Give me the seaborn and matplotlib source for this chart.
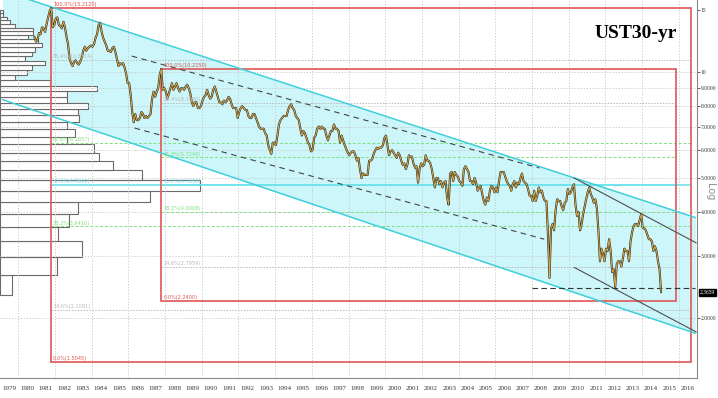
import numpy as np
import matplotlib
matplotlib.use('Agg')
import matplotlib.pyplot as plt
import matplotlib.transforms as mtransforms
from matplotlib.patches import Rectangle
import seaborn as sns
import pandas as pd

sns.set_theme(style='white')
plt.rcParams['font.family'] = ['DejaVu Sans']

# monthly 30yr yield, Nov 1980 .. Jan 2015
first_year, first_month = 1980, 11
yields = [
    12.6, 12.2,                                                        # 1980
    12.3, 12.9, 12.8, 13.4, 13.3, 13.0, 13.7, 14.3, 14.9, 15.2, 13.4, 13.6,  # 1981
    14.2, 14.3, 13.6, 13.5, 13.3, 13.9, 13.4, 12.6, 12.0, 10.9, 10.6, 10.4,  # 1982
    10.7, 10.8, 10.6, 10.5, 10.7, 11.0, 11.5, 11.8, 11.5, 11.7, 11.8, 11.9,  # 1983
    11.8, 12.0, 12.5, 12.8, 13.6, 13.8, 13.0, 12.5, 12.2, 11.9, 11.5, 11.5,  # 1984
    11.4, 11.7, 11.8, 11.4, 10.9, 10.4, 10.6, 10.5, 10.6, 10.3, 9.9, 9.3,    # 1985
    9.3, 8.6, 7.7, 7.2, 7.6, 7.3, 7.3, 7.4, 7.7, 7.6, 7.4, 7.5,              # 1986
    7.4, 7.5, 7.6, 8.4, 8.8, 8.5, 8.8, 9.0, 9.8, 10.2, 8.9, 9.0,             # 1987
    8.8, 8.4, 8.7, 9.0, 9.3, 8.9, 9.1, 9.3, 9.0, 8.8, 9.0, 9.0,              # 1988
    8.9, 9.1, 9.2, 9.0, 8.7, 8.2, 8.0, 8.2, 8.2, 7.9, 7.9, 8.0,              # 1989
    8.3, 8.5, 8.6, 8.9, 8.6, 8.4, 8.5, 8.9, 9.1, 8.8, 8.5, 8.2,              # 1990
    8.2, 8.1, 8.3, 8.2, 8.3, 8.5, 8.4, 8.1, 7.9, 7.9, 7.9, 7.4,              # 1991
    7.7, 7.9, 8.0, 7.9, 7.8, 7.8, 7.5, 7.4, 7.4, 7.6, 7.6, 7.4,              # 1992
    7.2, 7.0, 6.9, 6.9, 6.9, 6.7, 6.6, 6.2, 6.0, 5.85, 6.3, 6.3,             # 1993
    6.2, 6.6, 7.1, 7.3, 7.4, 7.5, 7.5, 7.5, 7.8, 8.0, 8.1, 7.9,              # 1994
    7.8, 7.5, 7.4, 7.3, 6.9, 6.6, 6.8, 6.7, 6.5, 6.3, 6.2, 5.95,             # 1995
    6.0, 6.5, 6.6, 6.9, 7.0, 6.9, 7.0, 6.9, 6.9, 6.6, 6.4, 6.6,              # 1996
    6.8, 6.8, 7.1, 6.9, 6.9, 6.8, 6.3, 6.6, 6.4, 6.2, 6.05, 5.9,             # 1997
    5.8, 5.9, 5.95, 5.95, 5.8, 5.6, 5.7, 5.3, 5.0, 5.15, 5.1, 5.1,           # 1998
    5.1, 5.6, 5.6, 5.65, 5.85, 6.0, 6.1, 6.05, 6.1, 6.1, 6.2, 6.5,           # 1999
    6.6, 6.2, 5.8, 5.95, 6.0, 5.9, 5.8, 5.7, 5.9, 5.8, 5.6, 5.45,            # 2000
    5.5, 5.3, 5.45, 5.8, 5.75, 5.75, 5.5, 5.35, 5.4, 4.85, 5.3, 5.5,         # 2001
    5.4, 5.45, 5.8, 5.6, 5.6, 5.5, 5.3, 5.0, 4.7, 5.0, 5.0, 4.8,             # 2002
    4.9, 4.7, 4.85, 4.9, 4.4, 4.2, 5.15, 5.2, 4.9, 5.2, 5.1, 5.05,           # 2003
    4.9, 4.85, 4.75, 5.3, 5.4, 5.3, 5.2, 4.9, 4.9, 4.8, 5.0, 4.85,           # 2004
    4.6, 4.7, 4.75, 4.5, 4.3, 4.2, 4.4, 4.3, 4.6, 4.75, 4.7, 4.55,           # 2005
    4.7, 4.55, 4.9, 5.2, 5.2, 5.2, 5.05, 4.9, 4.8, 4.75, 4.6, 4.8,           # 2006
    4.9, 4.7, 4.85, 4.8, 5.0, 5.15, 4.9, 4.85, 4.8, 4.65, 4.45, 4.45,        # 2007
    4.3, 4.6, 4.3, 4.45, 4.7, 4.55, 4.6, 4.4, 4.3, 4.3, 3.45, 2.6,           # 2008
    3.6, 3.7, 3.55, 4.05, 4.35, 4.3, 4.3, 4.15, 4.05, 4.25, 4.3, 4.65,       # 2009
    4.5, 4.55, 4.7, 4.8, 4.2, 3.9, 4.0, 3.55, 3.7, 3.95, 4.15, 4.35,         # 2010
    4.55, 4.7, 4.5, 4.4, 4.25, 4.35, 4.1, 3.55, 2.9, 3.15, 3.05, 2.9,        # 2011
    3.15, 3.1, 3.35, 3.1, 2.7, 2.75, 2.45, 2.85, 2.9, 2.9, 2.8, 2.95,        # 2012
    3.15, 3.1, 3.1, 2.9, 3.3, 3.5, 3.65, 3.7, 3.7, 3.65, 3.8, 3.95,          # 2013
    3.6, 3.6, 3.55, 3.45, 3.35, 3.35, 3.3, 3.1, 3.2, 3.1, 2.9, 2.75,         # 2014
    2.3659,                                                            # 2015
]
last_yield = 2.3659

# volume-at-price profile (lowest bin first)
profile_bottom = 2.33
profile_step = 0.325
profile_volume = [12, 57, 82, 58, 69, 78, 150, 200, 142, 113, 99, 94, 67, 75, 67,
                  79, 78, 88, 67, 67, 97, 50, 15, 27, 32, 45, 25, 32, 35, 42,
                  38, 28, 33, 33, 15, 10, 7, 3, 3]

# fib rectangles: (start, end, high, low)
fib_boxes = [(1981.79, 2016.69, 15.2120, 1.5045),
             (1987.80, 2015.88, 10.2250, 2.2400)]
fib_pcts = [85.4, 61.8, 50.0, 38.2, 14.6]
fib_colors = {85.4: '#b8b8b8', 61.8: '#7fe07f', 50.0: '#6fe3ec', 38.2: '#7fe07f', 14.6: '#b8b8b8'}

# channel and trend lines: ((x0, y0), (x1, y1))
chan_upper = ((1980.65, 16.02), (2016.91, 3.86))
chan_lower = ((1979.13, 8.35), (2016.91, 1.81))
dashed_lines = [((1986.18, 11.10), (2008.40, 5.34)),
                ((1986.34, 6.93), (2008.67, 3.35))]
solid_lines = [((2010.30, 5.00), (2016.96, 3.27)),
               ((2010.30, 2.786), (2016.96, 1.826))]
support_level = (2008.02, 2.434)

ytick_vals = [2, 3, 4, 5, 6, 7, 8, 9, 10, 15]
ytick_text = ['2.0000', '3.0000', '4.0000', '5.0000', '6.0000', '7.0000',
              '8.0000', '9.0000', '10', '15']
years = list(range(1979, 2017))

x_lo, x_hi = 1979.13, 2016.91
y_lo, y_hi = 1.351, 16.02

df = pd.DataFrame({'date': first_year + (first_month - 1 + np.arange(len(yields)) + 0.5) / 12,
                   'yield': yields})


def trend(p0, p1, x):
    (x0, y0), (x1, y1) = p0, p1
    t = (np.asarray(x) - x0) / (x1 - x0)
    return 10 ** (np.log10(y0) + t * (np.log10(y1) - np.log10(y0)))


fig = plt.figure(figsize=(7.18, 3.98), dpi=100)
ax = fig.add_axes([0, 20 / 398, 697 / 718, 378 / 398])
ax.set_yscale('log')
ax.set_xlim(x_lo, x_hi)
ax.set_ylim(y_lo, y_hi)
ax.autoscale(False)

# channel
xs = np.array([x_lo, x_hi])
up = trend(*chan_upper, xs)
lo = trend(*chan_lower, xs)
ax.fill_between(xs, lo, up, color='#ccf6f9', zorder=1, lw=0)
ax.plot(xs, up, color='#3fcfdb', lw=1.1, zorder=2.6)
ax.plot(xs, lo, color='#3fcfdb', lw=1.1, zorder=2.6)

# volume profile
blend = mtransforms.blended_transform_factory(ax.transAxes, ax.transData)
for i, v in enumerate(profile_volume):
    b = profile_bottom + i * profile_step
    ax.add_patch(Rectangle((0, b), v / 697, profile_step, transform=blend,
                           facecolor='white', edgecolor='#6a6a6a', lw=0.8, zorder=1.2))

# grid
for yv in ytick_vals[:-1]:
    ax.axhline(yv, color='#c4c4c4', lw=0.6, ls=(0, (1.5, 2)), zorder=1.5)
for yr in range(1980, 2017, 2):
    ax.axvline(yr, color='#c4c4c4', lw=0.6, ls=(0, (1.5, 2)), zorder=1.5)

# fib boxes
for x0, x1, hi, lw_ in fib_boxes:
    lh, ll = np.log10(hi), np.log10(lw_)
    for p in fib_pcts:
        val = 10 ** (ll + p / 100 * (lh - ll))
        c = fib_colors[p]
        if p == 50.0:
            ax.hlines(val, x0, x1, color=c, lw=1.2, zorder=2)
        elif p in (61.8, 38.2):
            ax.hlines(val, x0, x1, color=c, lw=0.7, ls=(0, (3, 2)), zorder=2)
        else:
            ax.hlines(val, x0, x1, color=c, lw=0.7, ls=(0, (1.5, 1.5)), zorder=2)
        ax.text(x0 + 0.1, val * 1.004, f'{p:.1f}%({val:.4f})', color=c, fontsize=3.6,
                va='bottom', ha='left', zorder=4)
    ax.add_patch(Rectangle((x0, lw_), x1 - x0, hi - lw_, fill=False,
                           edgecolor='#e06262', lw=1.3, zorder=2.5))
    ax.text(x0 + 0.1, hi * 1.006, f'100.0%({hi:.4f})', color='#e05050', fontsize=3.6,
            va='bottom', ha='left', zorder=4)
    ax.text(x0 + 0.1, lw_ * 1.006, f'0.0%({lw_:.4f})', color='#e05050', fontsize=3.6,
            va='bottom', ha='left', zorder=4)

# trend lines
for p0, p1 in dashed_lines:
    ax.plot([p0[0], p1[0]], [p0[1], p1[1]], color='#444444', lw=0.8,
            ls=(0, (5, 4)), zorder=2.6)
for p0, p1 in solid_lines:
    ax.plot([p0[0], p1[0]], [p0[1], p1[1]], color='#505050', lw=0.8, zorder=2.6)
ax.hlines(support_level[1], support_level[0], x_hi, color='#333333', lw=0.8,
          ls=(0, (5, 3)), zorder=2.6)

# price
sns.lineplot(data=df, x='date', y='yield', ax=ax, color='#2d2a1c', lw=1.5, zorder=3)
sns.lineplot(data=df, x='date', y='yield', ax=ax, color='#d9ad52', lw=0.7, zorder=3.1)

# axes
ax.set_xlabel('')
ax.set_ylabel('')
for s in ['top', 'left']:
    ax.spines[s].set_visible(False)
ax.spines['right'].set_color('#888888')
ax.spines['bottom'].set_color('#888888')
ax.spines['right'].set_linewidth(0.8)
ax.spines['bottom'].set_linewidth(0.8)

ax.yaxis.tick_right()
ax.yaxis.set_minor_locator(matplotlib.ticker.NullLocator())
ax.set_yticks(ytick_vals)
ax.set_yticklabels(ytick_text, family='Liberation Serif')
ax.tick_params(axis='y', which='major', direction='out', length=2, width=0.6,
               color='#444444', labelsize=4, labelcolor='#333333', pad=0.6)

ax.set_xticks(years + [2017])
ax.set_xticklabels([''] * (len(years) + 1))
ax.set_xticks([y + 0.5 for y in years], minor=True)
ax.set_xticklabels([str(y) for y in years], minor=True, fontsize=5,
                   family='Liberation Serif', color='#333333')
ax.tick_params(axis='x', which='major', direction='out', length=14.4, width=0.6,
               color='#777777')
ax.tick_params(axis='x', which='minor', length=0, pad=6)

ax.text(1.015, last_yield, f'{last_yield:.4f}', transform=blend, color='white',
        fontsize=4, family='Liberation Serif', ha='center', va='center',
        bbox=dict(boxstyle='square,pad=0.2', fc='black', ec='black'), clip_on=False)

fig.text(636 / 718, 1 - 34 / 398, 'UST30-yr', fontsize=14, fontweight='bold',
         family='Liberation Serif', ha='center', va='center', color='black')
fig.text(710 / 718, 1 - 192 / 398, 'Log', rotation=270, fontsize=7, color='#909090',
         ha='center', va='center')

fig.savefig('out.png', dpi=100)
